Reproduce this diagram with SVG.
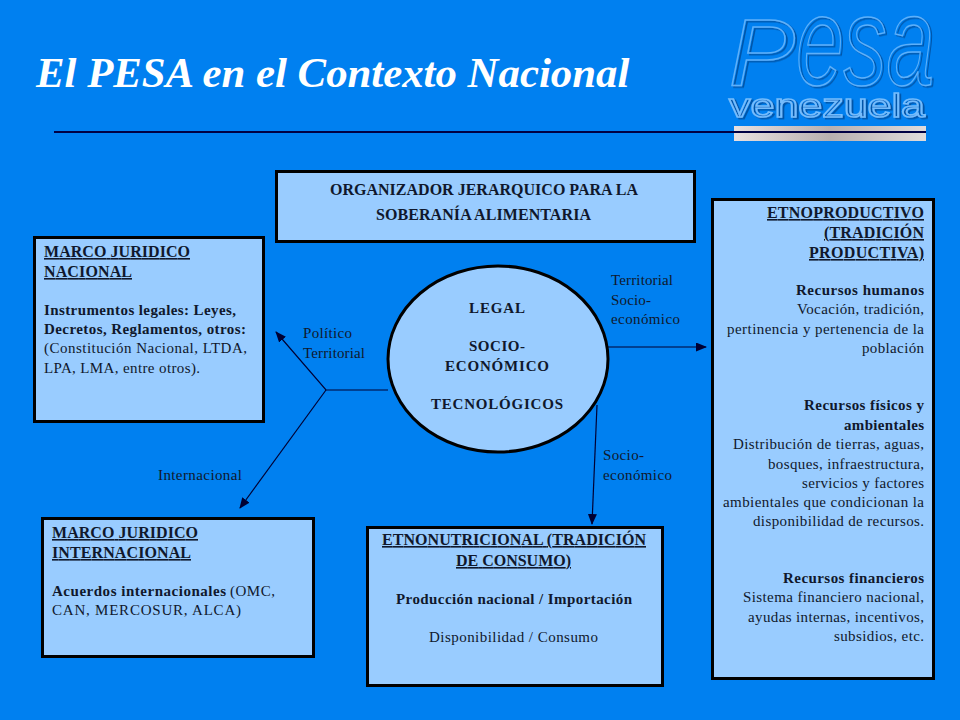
<svg xmlns="http://www.w3.org/2000/svg" width="960" height="720" viewBox="0 0 960 720">
<style>
text{font-family:"Liberation Serif","Times New Roman",serif;font-size:15px;fill:#10182c}
.b{font-weight:bold}
.u{font-weight:bold;font-size:16px;text-decoration:underline}
.h{font-weight:bold;font-size:16px}
.box{fill:#99ccff;stroke:#000;stroke-width:3}
.c{fill:none;stroke:#000033;stroke-width:1.2}
.lg{font-family:"Liberation Sans",sans-serif;font-style:italic;fill:none;stroke:#5db0fa;stroke-width:1.5;filter:url(#s)}
.v{font-family:"Liberation Sans",sans-serif;font-size:34px;fill:none;stroke:#74bcfc;stroke-width:1.6;filter:url(#s)}
</style>
<defs>
<marker id="a" markerWidth="11" markerHeight="9" refX="10" refY="4.500" orient="auto" markerUnits="userSpaceOnUse"><path d="M0 0L11 4.500L0 9Z" fill="#000033"/></marker>
<linearGradient id="g" x1="0" x2="1" y1="0" y2="0"><stop offset="0" stop-color="#e8e0e0"/><stop offset=".5" stop-color="#b8b0b0"/><stop offset="1" stop-color="#e0dcdc"/></linearGradient>
<filter id="s" x="-10%" y="-10%" width="120%" height="120%"><feDropShadow dx="2" dy="1.500" stdDeviation=".6" flood-color="#0054a8"/></filter>
</defs>
<rect width="960" height="720" fill="#0080f0"/>
<g id="logo">
<text class="lg" x="729" y="85" style="font-size:95px" textLength="66" lengthAdjust="spacingAndGlyphs">P</text>
<text class="lg" x="796" y="85" style="font-size:126px" textLength="138" lengthAdjust="spacingAndGlyphs">esa</text>
<text class="v" x="729" y="117" textLength="196" lengthAdjust="spacingAndGlyphs">venezuela</text>
</g>
<g id="title">
<text x="36" y="87" style="font-size:42.800px;font-weight:bold;font-style:italic;fill:#fff">El PESA en el Contexto Nacional</text>
<rect x="734" y="126" width="192" height="15" fill="url(#g)"/>
<line x1="54" y1="132" x2="926" y2="132" stroke="#000044" stroke-width="2"/>
</g>
<g id="connectors">
<path class="c" d="M388 390H326L276 332" marker-end="url(#a)"/>
<path class="c" d="M326 390L240 508" marker-end="url(#a)"/>
<path class="c" d="M608 347H706" marker-end="url(#a)"/>
<path class="c" d="M597 405L592 524" marker-end="url(#a)"/>
</g>
<g id="organizador">
<rect class="box" x="276.500" y="171.500" width="418" height="70"/>
<text class="h" x="330" y="195" textLength="308">ORGANIZADOR JERARQUICO PARA LA</text>
<text class="h" x="376" y="220" textLength="215">SOBERANÍA ALIMENTARIA</text>
</g>
<g id="marco-nacional">
<rect class="box" x="34.500" y="237.500" width="229" height="184"/>
<text class="u" x="44" y="257" textLength="146">MARCO JURIDICO</text>
<text class="u" x="44" y="277" textLength="88">NACIONAL</text>
<text class="b" x="44" y="315" textLength="192">Instrumentos legales: Leyes,</text>
<text class="b" x="44" y="334" textLength="202">Decretos, Reglamentos, otros:</text>
<text x="44" y="353" textLength="203">(Constitución Nacional, LTDA,</text>
<text x="44" y="373" textLength="156">LPA, LMA, entre otros).</text>
</g>
<g id="centro">
<ellipse cx="498" cy="359" rx="110" ry="93" fill="#99ccff" stroke="#000" stroke-width="3"/>
<text class="b" x="469" y="313" textLength="56">LEGAL</text>
<text class="b" x="469" y="351" textLength="56">SOCIO-</text>
<text class="b" x="445" y="371" textLength="104">ECONÓMICO</text>
<text class="b" x="431" y="409" textLength="132">TECNOLÓGICOS</text>
</g>
<g id="marco-internacional">
<rect class="box" x="42.500" y="518.500" width="271" height="138"/>
<text class="u" x="52" y="538" textLength="146">MARCO JURIDICO</text>
<text class="u" x="52" y="558" textLength="139">INTERNACIONAL</text>
<text class="b" x="52" y="596" textLength="174">Acuerdos internacionales</text>
<text x="230" y="596" textLength="45">(OMC,</text>
<text x="52" y="615" textLength="189">CAN, MERCOSUR, ALCA)</text>
</g>
<g id="etnonutricional">
<rect class="box" x="367.500" y="527.500" width="295" height="158"/>
<text class="u" x="382" y="545" textLength="264">ETNONUTRICIONAL (TRADICIÓN</text>
<text class="u" x="456" y="566" textLength="115">DE CONSUMO)</text>
<text class="b" x="396" y="604" textLength="236">Producción nacional / Importación</text>
<text x="429" y="642" textLength="169">Disponibilidad / Consumo</text>
</g>
<g id="etnoproductivo">
<rect class="box" x="712.500" y="199.500" width="221" height="479"/>
<text class="u" x="767" y="218" textLength="157">ETNOPRODUCTIVO</text>
<text class="u" x="824" y="238" textLength="100">(TRADICIÓN</text>
<text class="u" x="809" y="258" textLength="115">PRODUCTIVA)</text>
<text class="b" x="796" y="295" textLength="128">Recursos humanos</text>
<text x="797" y="314" textLength="127">Vocación, tradición,</text>
<text x="727" y="334" textLength="197">pertinencia y pertenencia de la</text>
<text x="862" y="353" textLength="62">población</text>
<text class="b" x="804" y="410" textLength="120">Recursos físicos y</text>
<text class="b" x="844" y="430" textLength="80">ambientales</text>
<text x="733" y="449" textLength="191">Distribución de tierras, aguas,</text>
<text x="768" y="469" textLength="156">bosques, infraestructura,</text>
<text x="802" y="488" textLength="122">servicios y factores</text>
<text x="723" y="507" textLength="201">ambientales que condicionan la</text>
<text x="753" y="526" textLength="171">disponibilidad de recursos.</text>
<text class="b" x="783" y="583" textLength="141">Recursos financieros</text>
<text x="743" y="602" textLength="181">Sistema financiero nacional,</text>
<text x="748" y="622" textLength="176">ayudas internas, incentivos,</text>
<text x="834" y="641" textLength="90">subsidios, etc.</text>
</g>
<g id="labels">
<text x="303" y="338" textLength="49">Político</text>
<text x="303" y="358" textLength="62">Territorial</text>
<text x="158" y="480" textLength="84">Internacional</text>
<text x="611" y="285" textLength="62">Territorial</text>
<text x="611" y="305" textLength="40">Socio-</text>
<text x="611" y="324" textLength="69">económico</text>
<text x="603" y="460" textLength="41">Socio-</text>
<text x="603" y="480" textLength="69">económico</text>
</g>
</svg>
